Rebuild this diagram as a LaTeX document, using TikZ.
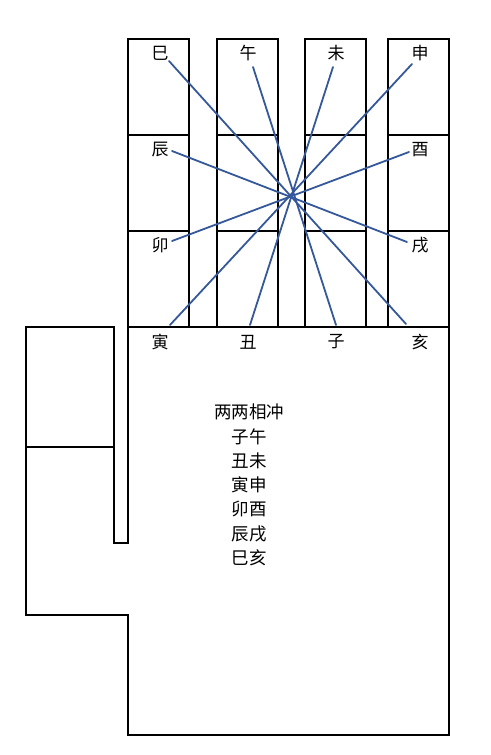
\documentclass[tikz,border=0pt]{standalone}
\usepackage{fontspec}
\newfontfamily\cjk{Noto Sans CJK SC}
\definecolor{lineblue}{HTML}{34589A}
\begin{document}
\begin{tikzpicture}[x=1pt,y=-1pt,
  frame/.style={draw=black,line width=1.1pt},
  lbl/.style={font=\cjk\fontsize{17}{17}\selectfont,inner sep=0pt},
  pairline/.style={draw=lineblue,line width=1.8pt,line cap=round}]
\useasboundingbox (0,0) rectangle (490,755);
% fingers
\foreach \a/\b in {128/189,217/278,305/366,388/449} {
  \draw[frame] (\a,327) -- (\a,39) -- (\b,39) -- (\b,327);
  \draw[frame] (\a,135) -- (\b,135);
  \draw[frame] (\a,231) -- (\b,231);
}
% palm and thumb
\draw[frame] (128,327) -- (449,327) -- (449,735) -- (128,735) -- (128,615)
  -- (26,615) -- (26,327) -- (114,327) -- (114,543) -- (128,543) -- cycle;
\draw[frame] (26,447) -- (114,447);
% labels
\node[lbl] (si)   at (160,53)  {巳};
\node[lbl] (wu)   at (248,53)  {午};
\node[lbl] (wei)  at (336,53)  {未};
\node[lbl] (shen) at (420,53)  {申};
\node[lbl] (chen) at (160,150) {辰};
\node[lbl] (you)  at (420,150) {酉};
\node[lbl] (mao)  at (160,245) {卯};
\node[lbl] (xu)   at (420,245) {戌};
\node[lbl] (yin)  at (160,342) {寅};
\node[lbl] (chou) at (248,342) {丑};
\node[lbl] (zi)   at (336,342) {子};
\node[lbl] (hai)  at (420,342) {亥};
% line end points
\coordinate (eSi) at (169,61);
\coordinate (eHai) at (406,324);
\coordinate (eWu) at (253,67);
\coordinate (eZi) at (336,325);
\coordinate (eWei) at (333,67);
\coordinate (eChou) at (250,325);
\coordinate (eShen) at (412,64);
\coordinate (eYin) at (170,325);
\coordinate (eChen) at (172,151);
\coordinate (eXu) at (407,242);
\coordinate (eYou) at (409,152);
\coordinate (eMao) at (172,241);
\draw[pairline] (eSi) -- (eHai);
\draw[pairline] (eWu) -- (eZi);
\draw[pairline] (eWei) -- (eChou);
\draw[pairline] (eShen) -- (eYin);
\draw[pairline] (eChen) -- (eXu);
\draw[pairline] (eYou) -- (eMao);
% text
\node[font=\cjk\fontsize{17.5}{24.3}\selectfont,align=center,inner sep=0pt] (txt) at (249,485)
  {两两相冲\\子午\\丑未\\寅申\\卯酉\\辰戌\\巳亥};
\end{tikzpicture}
\end{document}
